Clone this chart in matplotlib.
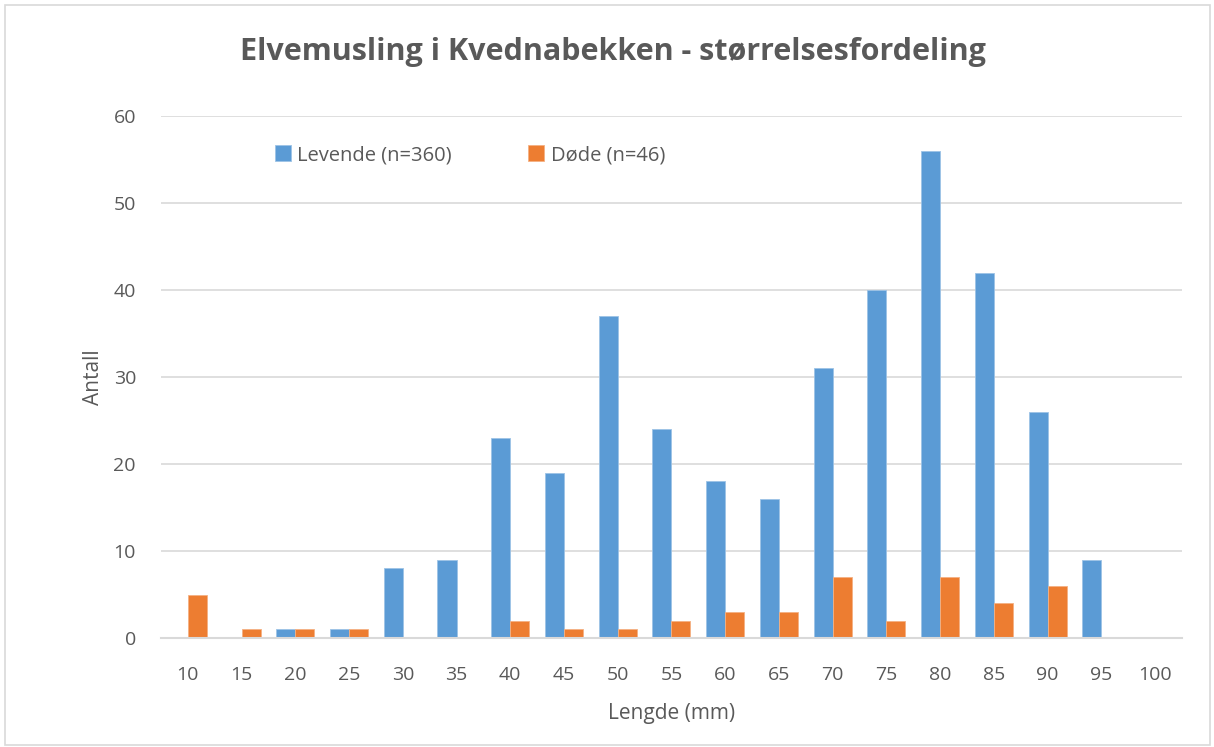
import numpy as np
import matplotlib.pyplot as plt
from matplotlib.patches import Rectangle

lengths = ['10', '15', '20', '25', '30', '35', '40', '45', '50', '55',
           '60', '65', '70', '75', '80', '85', '90', '95', '100']
levende = [0, 0, 1, 1, 8, 9, 23, 19, 37, 24, 18, 16, 31, 40, 56, 42, 26, 9, 0]
dode = [5, 1, 1, 1, 0, 0, 2, 1, 1, 2, 3, 3, 7, 2, 7, 4, 6, 0, 0]

blue = '#5B9BD5'
orange = '#ED7D31'
text_color = '#595959'
grid_color = '#D9D9D9'

plt.rcParams['font.family'] = ['Open Sans', 'DejaVu Sans']

fig = plt.figure(figsize=(12.14, 7.47), dpi=100)
fig.patches.append(Rectangle((0.004, 0.003), 0.993, 0.99, transform=fig.transFigure,
                             fill=False, edgecolor='#D9D9D9', linewidth=1.2))

ax = fig.add_axes([0.1326, 0.1459, 0.841, 0.6988])

x = np.arange(len(lengths))
w = 0.354
ax.bar(x - w / 2, levende, width=w, color=blue, edgecolor='#9DC3E6', linewidth=0.6,
       label='Levende (n=360)', zorder=3)
ax.bar(x + w / 2, dode, width=w, color=orange, edgecolor='#F4B183', linewidth=0.6,
       label='Døde (n=46)', zorder=3)

ax.set_xlim(-0.5, len(lengths) - 0.5)
ax.set_ylim(0, 60)
ax.set_yticks(range(0, 61, 10))
ax.set_xticks(x)
ax.set_xticklabels(lengths)
ax.yaxis.grid(True, color=grid_color, linewidth=1.2, zorder=0)
ax.tick_params(axis='both', length=0, labelsize=14, colors=text_color)
ax.tick_params(axis='x', pad=20)
ax.tick_params(axis='y', pad=18)
for s in ['top', 'right', 'left']:
    ax.spines[s].set_visible(False)
ax.spines['bottom'].set_color(grid_color)
ax.spines['bottom'].set_linewidth(1.5)
ax.spines['bottom'].set_zorder(4)

ax.set_xlabel('Lengde (mm)', fontsize=15, color=text_color, labelpad=14)
ax.set_ylabel('Antall', fontsize=15, color=text_color, labelpad=7)

fig.text(0.505, 0.93, 'Elvemusling i Kvednabekken - størrelsesfordeling',
         ha='center', va='center', fontsize=22, fontweight='bold', color=text_color)

leg = ax.legend(loc='center left', bbox_to_anchor=(0.094, 0.925), ncol=2, frameon=False,
                fontsize=14.5, handlelength=0.8, handleheight=0.8, handletextpad=0.3,
                columnspacing=3.8, labelcolor=text_color)

plt.savefig('out.png', dpi=100)
